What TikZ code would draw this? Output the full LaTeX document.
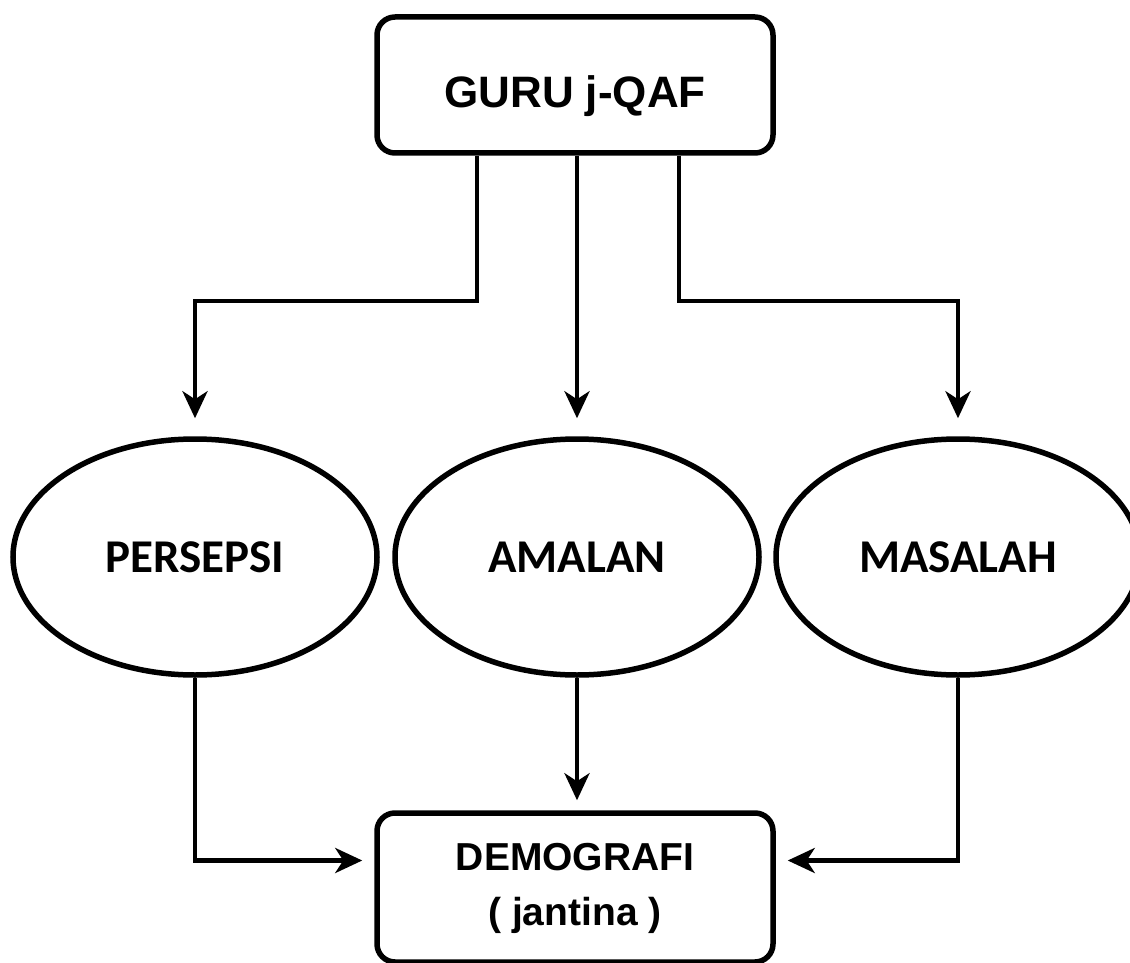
\documentclass[tikz,border=0pt]{standalone}
\usepackage{fontspec}
\setmainfont{Liberation Sans}
\newfontfamily\calibfont{Carlito}
\usepackage{tikz}
\usetikzlibrary{shapes.geometric}
\usetikzlibrary{arrows.meta}

\begin{document}
\begin{tikzpicture}[x=1pt,y=-1pt,
  topbox/.style={draw,line width=5.5pt,rounded corners=18pt,minimum width=396pt,minimum height=136pt,inner sep=0pt,font=\bfseries\fontsize{44}{50}\selectfont,text height=46pt,text depth=0pt},
  botbox/.style={draw,line width=5.5pt,rounded corners=18pt,minimum width=396pt,minimum height=149pt,inner sep=0pt,align=center,font=\bfseries\fontsize{39}{55}\selectfont,text height=85pt,text depth=10pt},
  oval/.style={draw,ellipse,line width=5.5pt,minimum width=364pt,minimum height=236pt,inner sep=0pt,font=\calibfont\bfseries\fontsize{47}{56}\selectfont},
  conn/.style={line width=4.5pt,-{Stealth[length=27pt,width=25pt,inset=8pt]}}]
  \useasboundingbox (0,0) rectangle (1130,963);
  \node[topbox] (guru) at (575,85) {GURU j-QAF};
  \node[oval] (persepsi) at (195,557) {PERSEPSI};
  \node[oval] (amalan) at (577,557) {AMALAN};
  \node[oval] (masalah) at (958,557) {MASALAH};
  \node[botbox] (demografi) at (575,887.5) {DEMOGRAFI\\( jantina )};
  % from the top box
  \draw[conn,shorten >=18pt] ([xshift=-98pt]guru.south) -- ++(0,145) -| (persepsi);
  \draw[conn,shorten >=18pt] (guru.south -| amalan) -- (amalan);
  \draw[conn,shorten >=18pt] ([xshift=104pt]guru.south) -- ++(0,145) -| (masalah);
  % to the bottom box
  \draw[conn,shorten >=12pt] (persepsi.south) |- ([yshift=27pt]demografi.west);
  \draw[conn,shorten >=10pt] (amalan) -- (amalan |- demografi.north);
  \draw[conn,shorten >=12pt] (masalah.south) |- ([yshift=27pt]demografi.east);
\end{tikzpicture}
\end{document}
